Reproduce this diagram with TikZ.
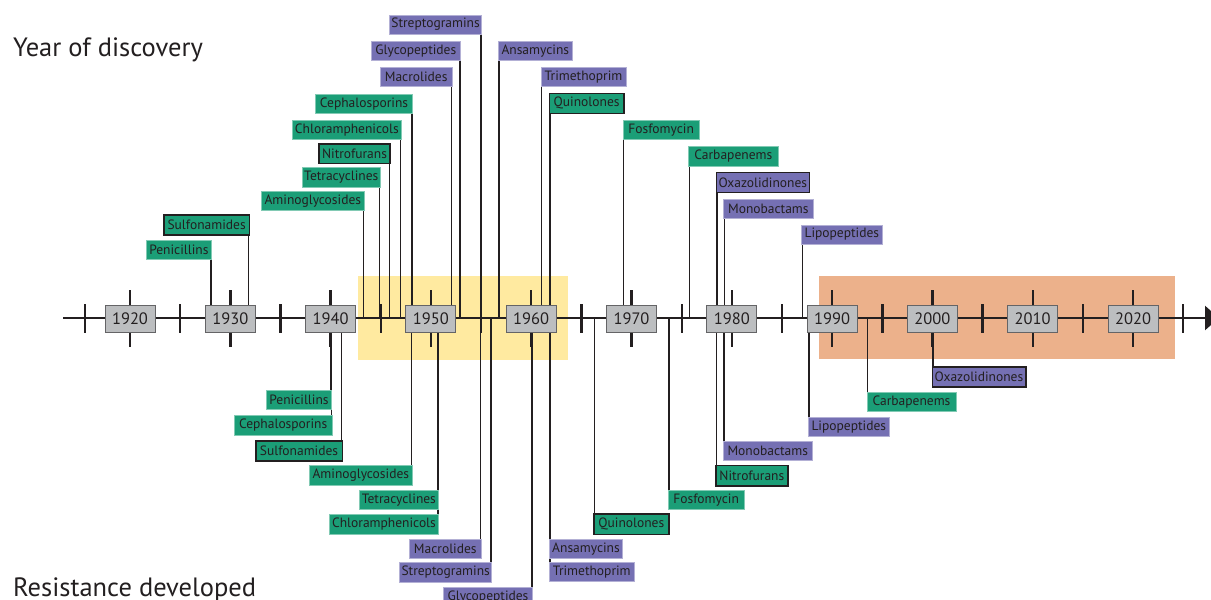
\documentclass[tikz,border=0pt]{standalone}
\usepackage{fontspec}
\setmainfont{PT Sans}
\usetikzlibrary{arrows.meta}
\definecolor{gfill}{RGB}{27,158,119}
\definecolor{pfill}{RGB}{117,112,179}
\definecolor{ink}{RGB}{35,31,32}
\definecolor{ybg}{RGB}{255,234,160}
\definecolor{obg}{RGB}{236,177,139}
\definecolor{yrfill}{RGB}{188,190,192}
\definecolor{yrdraw}{RGB}{100,100,102}
\pgfdeclarelayer{back}
\pgfdeclarelayer{lines}
\pgfsetlayers{back,lines,main}
\newcommand\lbl[7]{\node[#2, minimum width={(#5)-(#3)}, minimum height={(#6)-(#4)}] (#1) at ({((#3)+(#5))/2},{((#4)+(#6))/2}) {#7};}
\tikzset{
  lab/.style={rectangle, inner sep=0pt, outer sep=0pt, text=ink, font=\fontsize{13.5}{14}\selectfont, line width=0.6pt},
  gl/.style={lab, fill=gfill, draw=gfill!55!white},
  pl/.style={lab, fill=pfill, draw=pfill!55!white},
  gd/.style={lab, fill=gfill, draw=ink, line width=1.6pt},
  pd/.style={lab, fill=pfill, draw=ink, line width=1.6pt},
  lead/.style={draw=ink, line width=1.5pt},
  yr/.style={rectangle, fill=yrfill, draw=yrdraw, line width=1pt, minimum width=50, minimum height=27, inner sep=0pt, text=ink, font=\fontsize{16.5}{17}\selectfont},
  tick/.style={draw=ink, line width=2.4pt},
  title/.style={anchor=base west, inner sep=0pt, text=ink, font=\fontsize{26.5}{30}\selectfont}
}
\begin{document}
\begin{tikzpicture}[x=1pt,y=-1pt]
\useasboundingbox (0,0) rectangle (1211,600);
\begin{pgfonlayer}{back}
  \fill[ybg] (358,276) rectangle (568,360);
  \fill[obg] (819,276) rectangle (1175,359);
\end{pgfonlayer}
\coordinate (ax) at (0,318);
\node[title] (t1) at (13,56.7) {Year of discovery};
\node[title] (t2) at (13,596.7) {Resistance developed};
% top labels, line on right
\lbl{tpen}{gl}{146}{240.7}{211.7}{259.3}{Penicillins}
\lbl{tsul}{gd}{164}{215}{249.3}{235}{Sulfonamides}
\lbl{tami}{gl}{261.3}{191.3}{364.3}{210.7}{Aminoglycosides}
\lbl{ttet}{gl}{302.3}{167.7}{380.3}{187}{Tetracyclines}
\lbl{tnit}{gd}{319}{143.7}{390}{163.3}{Nitrofurans}
\lbl{tchl}{gl}{292.7}{120.3}{401}{139.3}{Chloramphenicols}
\lbl{tcep}{gl}{315.3}{94}{412.7}{113.3}{Cephalosporins}
\lbl{tmac}{pl}{380}{67.3}{452.3}{86.7}{Macrolides}
\lbl{tgly}{pl}{371}{41.3}{460.7}{60.7}{Glycopeptides}
\lbl{tstr}{pl}{389.3}{15}{481.7}{34}{Streptogramins}
% top labels, line on left
\lbl{tans}{pl}{498.3}{41.3}{572.3}{60.7}{Ansamycins}
\lbl{ttri}{pl}{541}{67.3}{626}{86.7}{Trimethoprim}
\lbl{tqui}{gd}{549.3}{93.3}{624}{113.3}{Quinolones}
\lbl{tfos}{gl}{623}{120.3}{699.3}{139.3}{Fosfomycin}
\lbl{tcar}{gl}{688.7}{146.3}{778}{166}{Carbapenems}
\lbl{toxa}{pd}{716.3}{172.3}{809.3}{192.3}{Oxazolidinones}
\lbl{tmon}{pl}{723.7}{199.3}{813}{218}{Monobactams}
\lbl{tlip}{pl}{801.7}{225}{882}{244}{Lipopeptides}
% bottom labels, line on right
\lbl{bpen}{gl}{266.3}{390.7}{331.7}{409.7}{Penicillins}
\lbl{bcep}{gl}{234.3}{415.7}{332}{435}{Cephalosporins}
\lbl{bsul}{gd}{255.7}{441}{342.3}{461}{Sulfonamides}
\lbl{bami}{gl}{309.3}{465.7}{412.3}{485}{Aminoglycosides}
\lbl{btet}{gl}{359.7}{490.3}{438}{509.7}{Tetracyclines}
\lbl{bchl}{gl}{329.3}{514.7}{438.7}{534}{Chloramphenicols}
\lbl{bmac}{pl}{409.3}{539}{481.3}{558.3}{Macrolides}
\lbl{bstr}{pl}{399.7}{562.3}{491.7}{582}{Streptogramins}
\lbl{bgly}{pl}{443.3}{587.3}{532.7}{606}{Glycopeptides}
% bottom labels, line on left
\lbl{bans}{pl}{549.3}{539}{622.7}{558.3}{Ansamycins}
\lbl{btri}{pl}{549.3}{562.3}{634.3}{581.7}{Trimethoprim}
\lbl{bqui}{gd}{594}{513.7}{668.7}{534.3}{Quinolones}
\lbl{bfos}{gl}{668.3}{490.3}{744}{509.3}{Fosfomycin}
\lbl{bnit}{gd}{716}{465.3}{787.7}{485.7}{Nitrofurans}
\lbl{bmon}{pl}{723.3}{441}{812.3}{460.7}{Monobactams}
\lbl{blip}{pl}{808.3}{417.3}{889.3}{436}{Lipopeptides}
\lbl{bcar}{gl}{867}{392.7}{956}{411.7}{Carbapenems}
\lbl{boxa}{pd}{932.3}{366.7}{1025.7}{386.7}{Oxazolidinones}
\begin{pgfonlayer}{lines}
  \foreach \n in {tpen,tsul,tami,ttet,tnit,tchl,tcep,tmac,tgly,tstr}
    \draw[lead] ([xshift=-0.6]\n.south east) -- ([xshift=-0.6]\n.south east |- ax);
  \foreach \n in {tans,ttri,tqui,tfos,tcar,toxa,tmon,tlip}
    \draw[lead] ([xshift=0.6]\n.south west) -- ([xshift=0.6]\n.south west |- ax);
  \foreach \n in {bpen,bcep,bsul,bami,btet,bchl,bmac,bstr,bgly}
    \draw[lead] ([xshift=-0.6]\n.north east) -- ([xshift=-0.6]\n.north east |- ax);
  \foreach \n in {bans,btri,bqui,bfos,bnit,bmon,blip,bcar,boxa}
    \draw[lead] ([xshift=0.6]\n.north west) -- ([xshift=0.6]\n.north west |- ax);
\end{pgfonlayer}
% axis
\coordinate (axs) at (63,318);
\coordinate (axe) at (1219,318);
\draw[draw=ink, line width=2.5pt, -{Triangle[length=14pt, width=24pt]}] (axs) -- (axe);
% mid ticks
\foreach \x in {85,180.2,280.5,380.8,481.1,581.4,681.7,782,882.3,982.6,1082.9,1183.2}
  \draw[tick] (\x,304) -- (\x,333);
% decade ticks and year boxes
\foreach \k [count=\i from 0] in {1920,1930,1940,1950,1960,1970,1980,1990,2000,2010,2020}{
  \draw[tick] ({130+100.3*\i},290) -- ({130+100.3*\i},347);
  \node[yr] (y\k) at ({130+100.3*\i},318.5) {\k};
}
\end{tikzpicture}
\end{document}
